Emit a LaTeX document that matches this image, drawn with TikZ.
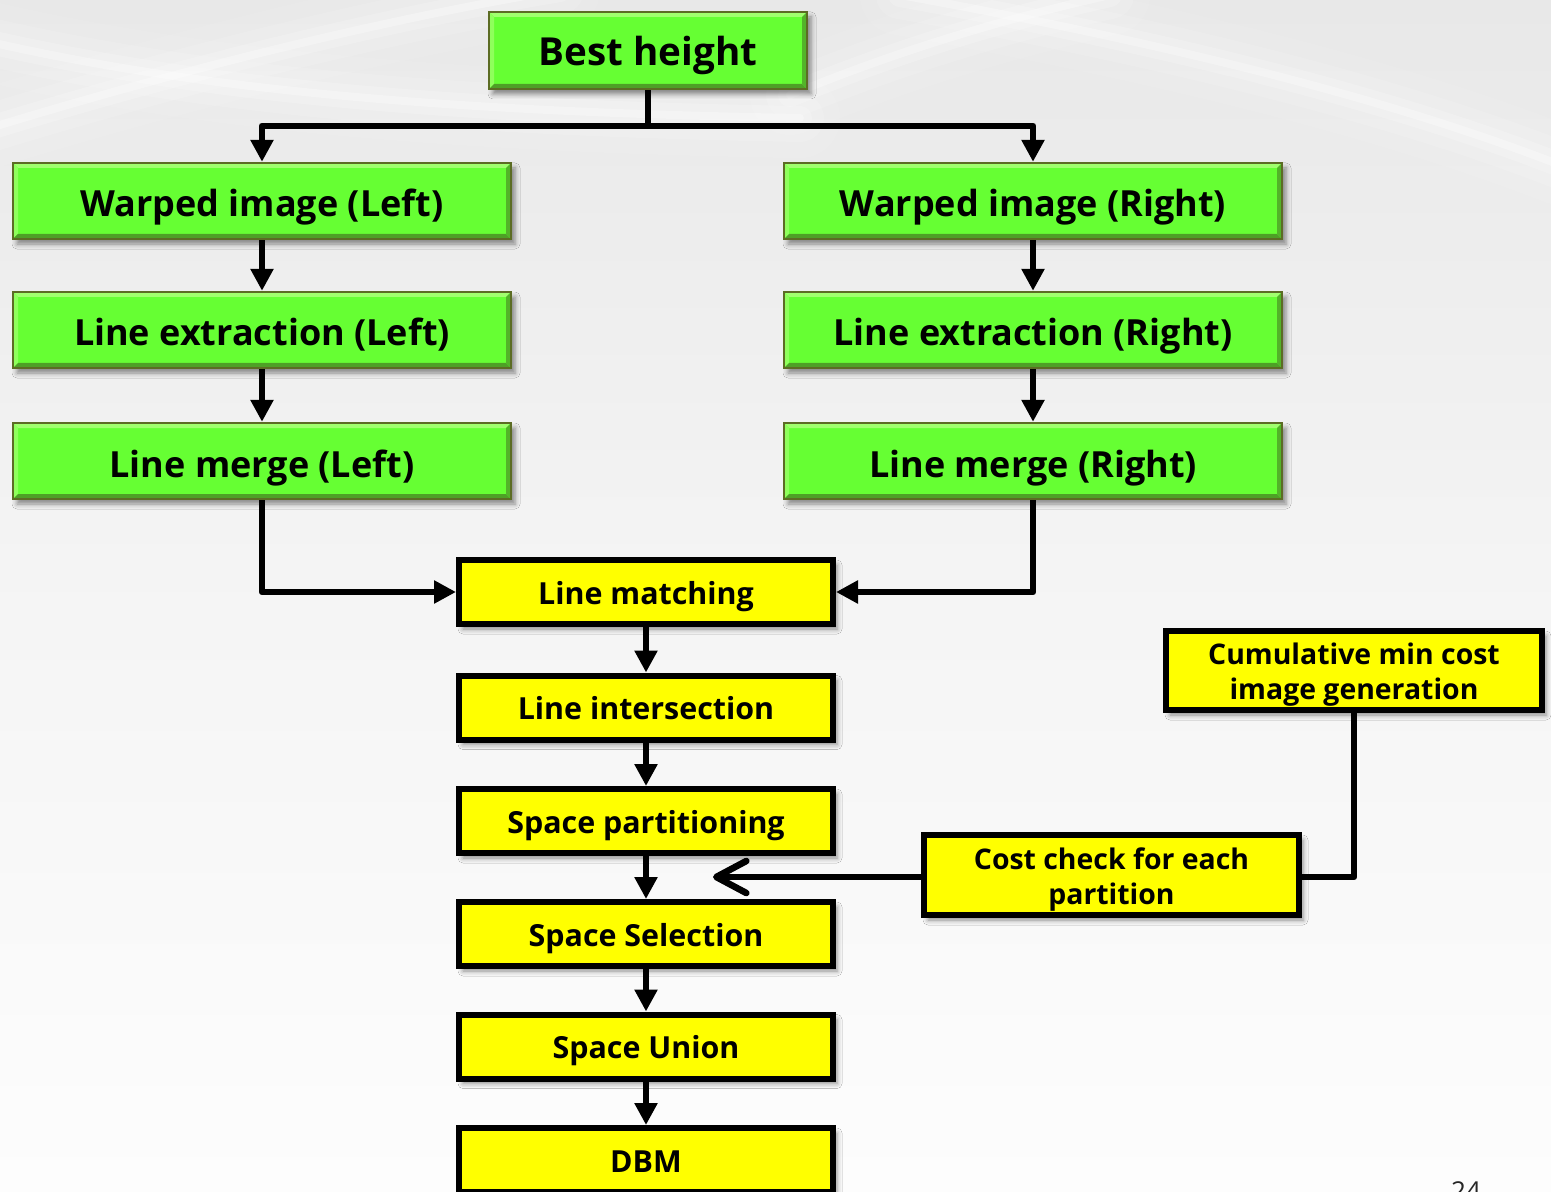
\documentclass[tikz,border=0pt]{standalone}
\usepackage{fontspec}
\setmainfont{Open Sans}
\usetikzlibrary{arrows.meta,shadows.blur}

\definecolor{boxgreen}{RGB}{102,255,51}
\definecolor{bevellight}{RGB}{160,255,110}
\definecolor{beveldark}{RGB}{78,160,38}
\definecolor{greenedge}{RGB}{92,108,36}
\definecolor{boxyellow}{RGB}{255,255,0}
\definecolor{bgtop}{RGB}{232,232,232}
\definecolor{bgbottom}{RGB}{253,253,253}

% two centred lines, lowered a little while keeping the box size
\newcommand{\twolines}[2]{\raisebox{-2.3pt}[\height][\depth]{\begin{tabular}{@{}c@{}}#1\\#2\end{tabular}}}

\tikzset{
  shade/.style={blur shadow={shadow xshift=2pt,shadow yshift=-2.5pt,shadow blur radius=2.5pt,shadow opacity=45}},
  greenbox/.style={draw=greenedge, line width=1.2pt, fill=boxgreen, shade,
    inner sep=0pt, font=\bfseries\fontsize{18}{21}\selectfont,
    text height=16pt, text depth=0pt,
    minimum width=249pt, minimum height=38pt,
    path picture={
      \fill[bevellight] (path picture bounding box.north west) -- (path picture bounding box.north east)
        -- ([shift={(-2.5pt,-2.5pt)}]path picture bounding box.north east)
        -- ([shift={(2.5pt,-2.5pt)}]path picture bounding box.north west) -- cycle;
      \fill[bevellight!70!boxgreen] (path picture bounding box.north west) -- (path picture bounding box.south west)
        -- ([shift={(2.5pt,2.5pt)}]path picture bounding box.south west)
        -- ([shift={(2.5pt,-2.5pt)}]path picture bounding box.north west) -- cycle;
      \fill[beveldark] (path picture bounding box.south west) -- (path picture bounding box.south east)
        -- ([shift={(-2.5pt,2.5pt)}]path picture bounding box.south east)
        -- ([shift={(2.5pt,2.5pt)}]path picture bounding box.south west) -- cycle;
      \fill[beveldark!80!boxgreen] (path picture bounding box.north east) -- (path picture bounding box.south east)
        -- ([shift={(-2.5pt,2.5pt)}]path picture bounding box.south east)
        -- ([shift={(-2.5pt,-2.5pt)}]path picture bounding box.north east) -- cycle;
    }},
  yellowbox/.style={draw=black, line width=3pt, fill=boxyellow, shade,
    inner sep=0pt, font=\bfseries\fontsize{15.2}{17.5}\selectfont,
    text height=12.2pt, text depth=0pt,
    minimum width=187pt, minimum height=32pt},
  notebox/.style={yellowbox, font=\bfseries\fontsize{14.2}{17.5}\selectfont,
    text height=, text depth=},
  link/.style={line width=3.3pt, line join=round},
  arr/.style={link, -{Triangle[length=11pt,width=11pt]}},
  openarr/.style={link, line cap=round, -{Straight Barb[length=15pt,width=16pt,line cap=round,line join=round]}}
}

\begin{document}
\begin{tikzpicture}[x=0.5pt,y=-0.5pt]
  \useasboundingbox (0,0) rectangle (1551,1192);
  % backdrop with soft light streaks
  \fill[top color=bgtop, bottom color=bgbottom, middle color=bgbottom!60!bgtop] (0,0) rectangle (1551,1192);
  \begin{scope}[white, line cap=round]
    \foreach \w/\o in {40/.08,24/.12,12/.18,4/.3}{
      \draw[line width=\w pt, opacity=\o] (-10,128) .. controls (180,70) and (380,20) .. (560,-10);
      \draw[line width=\w pt, opacity=\o] (-10,42) .. controls (200,90) and (450,112) .. (800,118);
      \draw[line width=\w pt, opacity=\o] (900,-5) .. controls (1150,40) and (1380,95) .. (1560,165);
      \draw[line width=\w pt, opacity=\o] (790,95) .. controls (900,50) and (1000,20) .. (1110,-5);
    }
  \end{scope}

  % upper green stage
  \node[greenbox, minimum width=159pt, minimum height=38.5pt, font=\bfseries\fontsize{19.3}{22}\selectfont, text height=14.7pt] (best) at (648,50.5) {Best height};
  \node[greenbox] (wl) at (262,201) {Warped image (Left)};
  \node[greenbox] (wr) at (1033,201) {Warped image (Right)};
  \node[greenbox] (el) at (262,330) {Line extraction (Left)};
  \node[greenbox] (er) at (1033,330) {Line extraction (Right)};
  \node[greenbox] (ml) at (262,461) {Line merge (Left)};
  \node[greenbox] (mr) at (1033,461) {Line merge (Right)};

  % lower yellow stage
  \node[yellowbox] (lm) at (646,592) {Line matching};
  \node[yellowbox] (li) at (646,707.5) {Line intersection};
  \node[yellowbox] (sp) at (646,821) {Space partitioning};
  \node[yellowbox] (ss) at (646,934) {Space Selection};
  \node[yellowbox] (su) at (646,1046.5) {Space Union};
  \node[yellowbox] (dbm) at (646,1160) {DBM};
  \node[notebox, minimum width=188pt, minimum height=39.5pt] (cum) at (1354,670.5) {\twolines{Cumulative min cost}{image generation}};
  \node[notebox, minimum width=187.5pt, minimum height=40pt] (cost) at (1111.5,875) {\twolines{Cost check for each}{partition}};

  % page number
  \node[anchor=base, inner sep=0pt, font=\fontsize{13}{15}\selectfont, text=black!85] (pageno) at (1466,1200) {24};

  % connectors
  \coordinate (split) at (648,126);
  \coordinate (costtip) at (713,877);
  \draw[link] (best.south) -- (split);
  \draw[arr] (split) -| (wl.north);
  \draw[arr] (split) -| (wr.north);
  \draw[arr] (wl) -- (el);
  \draw[arr] (el) -- (ml);
  \draw[arr] (wr) -- (er);
  \draw[arr] (er) -- (mr);
  \draw[arr] (ml.south) |- (lm.west);
  \draw[arr] (mr.south) |- (lm.east);
  \draw[arr] (lm) -- (li);
  \draw[arr] (li) -- (sp);
  \draw[arr] (sp) -- (ss);
  \draw[arr] (ss) -- (su);
  \draw[arr] (su) -- (dbm);
  \draw[link] (cum.south) |- ([yshift=-1pt]cost.east);
  \draw[openarr] ([yshift=-1pt]cost.west) -- (costtip);
\end{tikzpicture}
\end{document}
